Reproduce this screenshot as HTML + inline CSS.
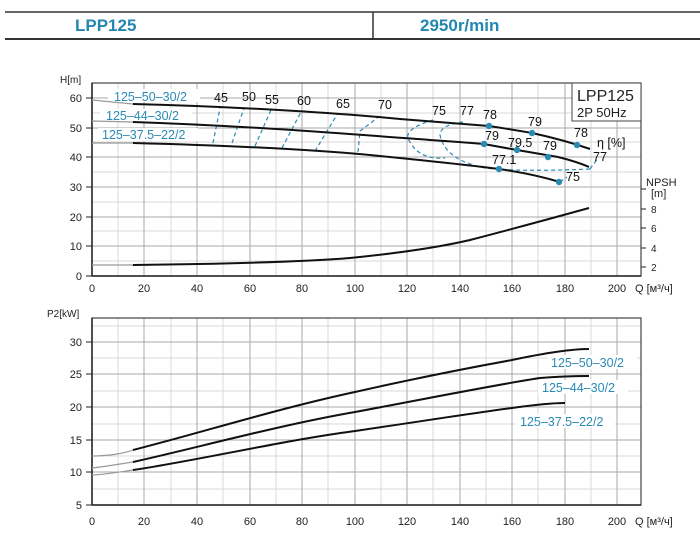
<!DOCTYPE html>
<html><head><meta charset="utf-8"><style>
body{margin:0;background:#fff;width:700px;height:534px;overflow:hidden}
svg{display:block;font-family:"Liberation Sans",sans-serif}
</style></head><body>
<svg width="700" height="534" viewBox="0 0 700 534">
<line x1="5" y1="12" x2="700" y2="12" stroke="#333" stroke-width="1.5"/>
<line x1="5" y1="39" x2="700" y2="39" stroke="#333" stroke-width="2"/>
<line x1="373" y1="12" x2="373" y2="39" stroke="#333" stroke-width="1.5"/>
<text x="75" y="31" font-size="17" font-weight="bold" fill="#2387b0">LPP125</text>
<text x="420" y="31" font-size="17" font-weight="bold" fill="#2387b0">2950r/min</text>

<g stroke="#d8d8d8" stroke-width="1">
<line x1="92" y1="261" x2="641" y2="261"/><line x1="92" y1="231" x2="641" y2="231"/><line x1="92" y1="202" x2="641" y2="202"/><line x1="92" y1="172" x2="641" y2="172"/><line x1="92" y1="142" x2="641" y2="142"/><line x1="92" y1="113" x2="641" y2="113"/><line x1="92" y1="83" x2="641" y2="83"/>
<line x1="118" y1="83" x2="118" y2="276"/><line x1="171" y1="83" x2="171" y2="276"/><line x1="223" y1="83" x2="223" y2="276"/><line x1="276" y1="83" x2="276" y2="276"/><line x1="328" y1="83" x2="328" y2="276"/><line x1="381" y1="83" x2="381" y2="276"/><line x1="433" y1="83" x2="433" y2="276"/><line x1="486" y1="83" x2="486" y2="276"/><line x1="538" y1="83" x2="538" y2="276"/><line x1="591" y1="83" x2="591" y2="276"/>
</g>
<g stroke="#aaa" stroke-width="1">
<line x1="92" y1="246" x2="641" y2="246"/><line x1="92" y1="217" x2="641" y2="217"/><line x1="92" y1="187" x2="641" y2="187"/><line x1="92" y1="157" x2="641" y2="157"/><line x1="92" y1="128" x2="641" y2="128"/><line x1="92" y1="98" x2="641" y2="98"/>
<line x1="144" y1="83" x2="144" y2="276"/><line x1="197" y1="83" x2="197" y2="276"/><line x1="250" y1="83" x2="250" y2="276"/><line x1="302" y1="83" x2="302" y2="276"/><line x1="355" y1="83" x2="355" y2="276"/><line x1="407" y1="83" x2="407" y2="276"/><line x1="460" y1="83" x2="460" y2="276"/><line x1="512" y1="83" x2="512" y2="276"/><line x1="565" y1="83" x2="565" y2="276"/><line x1="617" y1="83" x2="617" y2="276"/>
</g>
<rect x="92" y="83" width="549" height="193" fill="none" stroke="#444" stroke-width="1.2"/>
<line x1="92" y1="276" x2="641" y2="276" stroke="#222" stroke-width="1.5"/>
<line x1="92" y1="83" x2="92" y2="276" stroke="#222" stroke-width="1.5"/>
<g stroke="#222"><line x1="86" y1="98" x2="92" y2="98"/><line x1="86" y1="128" x2="92" y2="128"/><line x1="86" y1="157" x2="92" y2="157"/><line x1="86" y1="187" x2="92" y2="187"/><line x1="86" y1="217" x2="92" y2="217"/><line x1="86" y1="246" x2="92" y2="246"/><line x1="86" y1="276" x2="92" y2="276"/>
<line x1="641" y1="267" x2="646" y2="267"/><line x1="641" y1="248" x2="646" y2="248"/><line x1="641" y1="228" x2="646" y2="228"/><line x1="641" y1="209" x2="646" y2="209"/><line x1="641" y1="189" x2="646" y2="189"/>
</g>
<g font-size="11" fill="#222" text-anchor="end">
<text x="82" y="102">60</text><text x="82" y="132">50</text><text x="82" y="161">40</text><text x="82" y="191">30</text><text x="82" y="221">20</text><text x="82" y="250">10</text><text x="82" y="280">0</text>
</g>
<text x="60" y="83" font-size="10" fill="#222">H[m]</text>
<g font-size="10" fill="#222"><text x="651" y="271">2</text><text x="651" y="252">4</text><text x="651" y="232">6</text><text x="651" y="213">8</text>
<text x="646" y="186" font-size="11">NPSH</text><text x="651" y="197" font-size="11">[m]</text></g>
<g font-size="11" fill="#222" text-anchor="middle">
<text x="92" y="292">0</text><text x="144" y="292">20</text><text x="197" y="292">40</text><text x="250" y="292">60</text><text x="302" y="292">80</text><text x="355" y="292">100</text><text x="407" y="292">120</text><text x="460" y="292">140</text><text x="512" y="292">160</text><text x="565" y="292">180</text><text x="617" y="292">200</text>
</g>
<text x="635" y="292" font-size="11" fill="#222">Q [м³/ч]</text>

<g font-size="12.5" fill="#2a8ab4">
<rect x="108" y="89" width="92" height="13" fill="#fff"/><text x="114" y="101">125–50–30/2</text>
<rect x="100" y="109" width="92" height="13" fill="#fff"/><text x="106" y="120">125–44–30/2</text>
<rect x="98" y="128" width="100" height="13" fill="#fff"/><text x="102" y="139">125–37.5–22/2</text>
</g>
<rect x="572" y="83" width="69" height="38" fill="#fff" stroke="#444"/>
<text x="577" y="101" font-size="16" fill="#222">LPP125</text>
<text x="577" y="117" font-size="13" fill="#222">2P  50Hz</text>

<g stroke="#2a8ab4" stroke-width="1.2" fill="none" stroke-dasharray="4,3">
<path d="M213,143 L220,108"/><path d="M232,143 L244,108"/><path d="M255,146 L271,110"/><path d="M282,148 L301,112"/><path d="M315,151 L338,113"/><path d="M358,152 L360,131 L380,116"/>
<path d="M433,120 Q400,130 410,142 Q420,160 445,158"/>
<path d="M463,122 Q440,125 440,135 Q445,160 485,168 Q520,172 590,169"/>
<path d="M590,169 L598,158"/><path d="M560,182 L567,177"/>
</g>
<g fill="none" stroke-width="2" stroke="#111">
<path d="M133,104 C250,107 350,114 400,119 C450,123 489,126 489,126 C515,130 532,133 532,133 C555,138 570,142 590,149"/>
<path d="M133,122 C250,126 350,134 430,140 C460,142 484,144 484,144 C500,147 517,150 517,150 C540,154 558,157 558,157 C570,160 580,163 589,167"/>
<path d="M133,143 C250,146 330,151 380,156 C420,160 470,165 499,169 C520,172 540,176 560,182"/>
<path d="M133,265 C220,264 300,262 350,258 C400,253 440,247 470,240 C520,227 560,216 589,208"/>
</g>
<g fill="none" stroke="#999" stroke-width="1.2">
<path d="M92,100 L133,104"/><path d="M92,121 L133,122"/><path d="M92,143 L133,143"/><path d="M92,265 L133,265"/>
</g>
<g fill="#2a8ab4">
<circle cx="489" cy="126" r="3.2"/><circle cx="532" cy="133" r="3.2"/><circle cx="577" cy="145" r="3.2"/>
<circle cx="484" cy="144" r="3.2"/><circle cx="517" cy="150" r="3.2"/><circle cx="548" cy="157" r="3.2"/>
<circle cx="499" cy="169" r="3.2"/><circle cx="559" cy="182" r="3.2"/>
</g>
<g font-size="12.5" fill="#111">
<text x="214" y="102">45</text><text x="242" y="101">50</text><text x="265" y="104">55</text><text x="297" y="105">60</text><text x="336" y="108">65</text><text x="378" y="109">70</text>
<text x="432" y="115">75</text><text x="460" y="115">77</text><text x="483" y="119">78</text><text x="528" y="126">79</text><text x="574" y="137">78</text>
<text x="485" y="140">79</text><text x="508" y="147">79.5</text><text x="543" y="150">79</text>
<text x="593" y="161">77</text><text x="492" y="164">77.1</text><text x="566" y="181">75</text>
<text x="597" y="147">η [%]</text>
</g>

<g stroke="#d8d8d8">
<line x1="92" y1="489" x2="641" y2="489"/><line x1="92" y1="456" x2="641" y2="456"/><line x1="92" y1="424" x2="641" y2="424"/><line x1="92" y1="391" x2="641" y2="391"/><line x1="92" y1="358" x2="641" y2="358"/><line x1="92" y1="326" x2="641" y2="326"/>
<line x1="118" y1="318" x2="118" y2="505"/><line x1="171" y1="318" x2="171" y2="505"/><line x1="223" y1="318" x2="223" y2="505"/><line x1="276" y1="318" x2="276" y2="505"/><line x1="328" y1="318" x2="328" y2="505"/><line x1="381" y1="318" x2="381" y2="505"/><line x1="433" y1="318" x2="433" y2="505"/><line x1="486" y1="318" x2="486" y2="505"/><line x1="538" y1="318" x2="538" y2="505"/><line x1="591" y1="318" x2="591" y2="505"/>
</g>
<g stroke="#aaa">
<line x1="92" y1="472" x2="641" y2="472"/><line x1="92" y1="440" x2="641" y2="440"/><line x1="92" y1="407" x2="641" y2="407"/><line x1="92" y1="374" x2="641" y2="374"/><line x1="92" y1="342" x2="641" y2="342"/>
<line x1="144" y1="318" x2="144" y2="505"/><line x1="197" y1="318" x2="197" y2="505"/><line x1="250" y1="318" x2="250" y2="505"/><line x1="302" y1="318" x2="302" y2="505"/><line x1="355" y1="318" x2="355" y2="505"/><line x1="407" y1="318" x2="407" y2="505"/><line x1="460" y1="318" x2="460" y2="505"/><line x1="512" y1="318" x2="512" y2="505"/><line x1="565" y1="318" x2="565" y2="505"/><line x1="617" y1="318" x2="617" y2="505"/>
</g>
<rect x="92" y="318" width="549" height="187" fill="none" stroke="#444" stroke-width="1.2"/>
<line x1="92" y1="505" x2="641" y2="505" stroke="#222" stroke-width="1.5"/>
<line x1="92" y1="318" x2="92" y2="505" stroke="#222" stroke-width="1.5"/>
<g stroke="#222"><line x1="86" y1="342" x2="92" y2="342"/><line x1="86" y1="374" x2="92" y2="374"/><line x1="86" y1="407" x2="92" y2="407"/><line x1="86" y1="440" x2="92" y2="440"/><line x1="86" y1="472" x2="92" y2="472"/><line x1="86" y1="505" x2="92" y2="505"/></g>
<text x="47" y="317" font-size="10" fill="#222">P2[kW]</text>
<g font-size="11" fill="#222" text-anchor="end">
<text x="82" y="346">30</text><text x="82" y="378">25</text><text x="82" y="411">20</text><text x="82" y="444">15</text><text x="82" y="476">10</text><text x="82" y="509">5</text>
</g>
<g font-size="11" fill="#222" text-anchor="middle">
<text x="92" y="525">0</text><text x="144" y="525">20</text><text x="197" y="525">40</text><text x="250" y="525">60</text><text x="302" y="525">80</text><text x="355" y="525">100</text><text x="407" y="525">120</text><text x="460" y="525">140</text><text x="512" y="525">160</text><text x="565" y="525">180</text><text x="617" y="525">200</text>
</g>
<text x="635" y="525" font-size="11" fill="#222">Q [м³/ч]</text>
<g fill="none" stroke="#999" stroke-width="1.2">
<path d="M92,456 C110,456 125,453 133,450"/><path d="M92,468 C110,466 125,463 133,462"/><path d="M92,475 C110,474 125,471 133,470"/>
</g>
<g fill="none" stroke="#111" stroke-width="2">
<path d="M133,450 C200,433 280,408 355,392 C430,375 490,364 512,360 C545,353 570,349 589,349"/>
<path d="M133,462 C200,447 280,425 355,412 C430,398 500,384 540,378 C565,376 580,376 589,376"/>
<path d="M133,470 C200,460 280,441 355,431 C430,420 480,412 512,408 C540,404 555,403 565,403"/>
</g>
<g font-size="12.5" fill="#2a8ab4">
<rect x="547" y="355" width="90" height="14" fill="#fff"/><text x="551" y="367">125–50–30/2</text>
<rect x="538" y="380" width="90" height="14" fill="#fff"/><text x="542" y="392">125–44–30/2</text>
<rect x="516" y="414" width="99" height="14" fill="#fff"/><text x="520" y="426">125–37.5–22/2</text>
</g>
</svg>
</body></html>
